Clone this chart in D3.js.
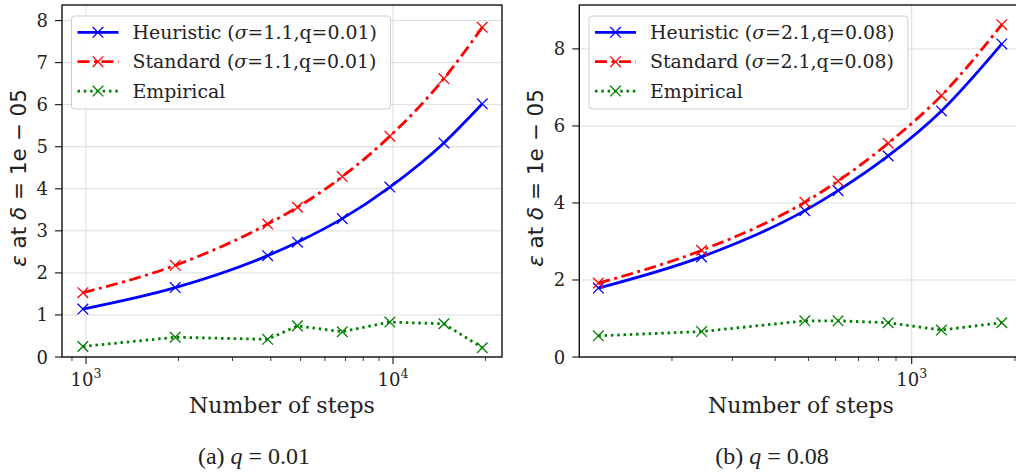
<!DOCTYPE html>
<html>
<head>
<meta charset="utf-8">
<script src="https://cdn.jsdelivr.net/npm/d3@7"></script>
<style>
  body { margin: 0; background: white; }
  svg { display: block; }
  text { font-family: "DejaVu Serif", serif; fill: #222; }
</style>
</head>
<body>
<svg id="fig" width="1016" height="472"></svg>
<script>
// steps = epochs * 50000 / batch
let stepsA = [977, 1953, 3906, 4883, 6836, 9766, 14648, 19531];
let heuristicA = [1.14, 1.65, 2.41, 2.73, 3.29, 4.04, 5.09, 6.02];
let standardA = [1.53, 2.18, 3.16, 3.56, 4.29, 5.25, 6.62, 7.84];
let empiricalA = [0.25, 0.47, 0.42, 0.74, 0.60, 0.83, 0.79, 0.22];

let stepsB = [122, 244, 488, 610, 854, 1221, 1831];
let heuristicB = [1.79, 2.60, 3.80, 4.32, 5.22, 6.39, 8.13];
let standardB = [1.92, 2.77, 4.02, 4.57, 5.55, 6.79, 8.63];
let empiricalB = [0.55, 0.66, 0.94, 0.94, 0.89, 0.70, 0.89];

let yTicksA = [0, 1, 2, 3, 4, 5, 6, 7, 8];
let yTicksB = [0, 2, 4, 6, 8];

let labelsA = ["Heuristic", "Standard", "Empirical"];

const svg = d3.select("svg#fig");

let styles = [
  {color: "#0000ff", dash: null, curve: d3.curveMonotoneX},
  {color: "#ff0000", dash: "12,4.5,3,4.5", curve: d3.curveMonotoneX},
  {color: "#008000", dash: "2.5,3.8", curve: d3.curveLinear}
];

function drawPanel(p){
  const g = svg.append("g");
  const x = d3.scaleLog().domain(p.xdom).range([p.left, p.right]);
  const y = d3.scaleLinear().domain(p.ydom).range([357, 5]);

  // clip for data
  const cid = "clip" + p.id;
  svg.append("clipPath").attr("id", cid).append("rect")
    .attr("x", p.left).attr("y", 5)
    .attr("width", p.right - p.left).attr("height", 352);

  const allTicks = x.ticks();
  const major = allTicks.filter(t => Math.abs(Math.log10(t) - Math.round(Math.log10(t))) < 1e-9);

  // grid
  for (t of p.yticks){
    g.append("line")
      .attr("x1", p.left).attr("x2", p.right)
      .attr("y1", y(t)).attr("y2", y(t))
      .attr("stroke", "#dcdcdc").attr("stroke-width", 1);
  }
  for (t of major){
    g.append("line")
      .attr("x1", x(t)).attr("x2", x(t))
      .attr("y1", 5).attr("y2", 357)
      .attr("stroke", "#dcdcdc").attr("stroke-width", 1);
  }

  // series
  let series = [p.heur, p.std, p.emp];
  series.forEach(function(vals, k){
    let st = styles[k];
    let pts = p.steps.map((s, i) => [x(s), y(vals[i])]);
    let line = d3.line().curve(st.curve);
    g.append("path")
      .attr("clip-path", "url(#" + cid + ")")
      .attr("d", line(pts))
      .attr("fill", "none")
      .attr("stroke", st.color)
      .attr("stroke-width", 2.8)
      .attr("stroke-dasharray", st.dash);
    for (pt of pts){
      drawX(g, pt[0], pt[1], st.color);
    }
  });

  // frame
  g.append("rect")
    .attr("x", p.left).attr("y", 5)
    .attr("width", p.right - p.left).attr("height", 352)
    .attr("fill", "none").attr("stroke", "#111").attr("stroke-width", 1.4);

  // y ticks
  for (t of p.yticks){
    g.append("line")
      .attr("x1", p.left - 7).attr("x2", p.left)
      .attr("y1", y(t)).attr("y2", y(t))
      .attr("stroke", "#111").attr("stroke-width", 1.1);
    g.append("text")
      .attr("x", p.left - 14).attr("y", y(t) + 6.5)
      .attr("text-anchor", "end")
      .attr("font-size", 18)
      .text(t);
  }

  // x ticks
  for (t of allTicks){
    let isMajor = major.indexOf(t) >= 0;
    g.append("line")
      .attr("x1", x(t)).attr("x2", x(t))
      .attr("y1", 357).attr("y2", 357 + (isMajor ? 7 : 4))
      .attr("stroke", "#111").attr("stroke-width", isMajor ? 1.1 : 0.8);
    if (isMajor){
      let tx = g.append("text")
        .attr("x", x(t)).attr("y", 386)
        .attr("text-anchor", "middle")
        .attr("font-size", 18);
      tx.append("tspan").text("10");
      tx.append("tspan").attr("dy", -8).attr("font-size", 12.5)
        .text(Math.round(Math.log10(t)));
    }
  }

  // axis labels
  let cx = (p.left + p.right) / 2;
  if (p.id == "b") cx = 801;
  g.append("text")
    .attr("x", cx).attr("y", 413)
    .attr("text-anchor", "middle")
    .attr("font-size", 22)
    .text("Number of steps");

  let yl = g.append("text")
    .attr("transform", "translate(" + p.ylabX + ",178) rotate(-90)")
    .attr("text-anchor", "middle")
    .attr("font-size", 21.5)
    .style("font-family", "'DejaVu Sans', sans-serif");
  yl.append("tspan").attr("font-style", "italic").text("ε");
  yl.append("tspan").text(" at ");
  yl.append("tspan").attr("font-style", "italic").text("δ");
  yl.append("tspan").text(" = 1e − 05");

  // legend
  const lg = g.append("g");
  lg.append("rect")
    .attr("x", p.legX).attr("y", 16)
    .attr("width", p.legW).attr("height", 93)
    .attr("rx", 3)
    .attr("fill", "white").attr("fill-opacity", 0.85)
    .attr("stroke", "#cccccc").attr("stroke-width", 1);
  labelsA.forEach(function(name, k){
    let st = styles[k];
    let ly = 32.3 + k * 29.4;
    let x0 = p.legX + 6, x1 = p.legX + 47;
    lg.append("line")
      .attr("x1", x0).attr("x2", x1)
      .attr("y1", ly).attr("y2", ly)
      .attr("stroke", st.color).attr("stroke-width", 2.8)
      .attr("stroke-dasharray", st.dash);
    drawX(lg, (x0 + x1) / 2, ly, st.color);
    let tx = lg.append("text")
      .attr("x", p.legX + 61).attr("y", ly + 6.5)
      .attr("font-size", 18.9);
    if (k < 2){
      tx.append("tspan").text(name + " (");
      tx.append("tspan").attr("font-style", "italic").text("σ");
      tx.append("tspan").text("=" + p.sigma + ",q=" + p.q + ")");
    } else {
      tx.text(name);
    }
  });
}

function drawX(g, cx, cy, color){
  let r = 5.3;
  g.append("path")
    .attr("d", "M" + (cx - r) + "," + (cy - r) + "L" + (cx + r) + "," + (cy + r) +
               "M" + (cx - r) + "," + (cy + r) + "L" + (cx + r) + "," + (cy - r))
    .attr("stroke", color).attr("stroke-width", 1.3).attr("fill", "none");
}

drawPanel({
  id: "a",
  left: 62, right: 502,
  xdom: [Math.pow(10, 2.9218), Math.pow(10, 4.355)],
  ydom: [0, 8.37],
  yticks: yTicksA,
  steps: stepsA, heur: heuristicA, std: standardA, emp: empiricalA,
  ylabX: 26, legX: 71.5, legW: 319, sigma: "1.1", q: "0.01"
});

drawPanel({
  id: "b",
  left: 579.3, right: 1023,
  xdom: [Math.pow(10, 2.0309), Math.pow(10, 3.3245)],
  ydom: [0, 9.14],
  yticks: yTicksB,
  steps: stepsB, heur: heuristicB, std: standardB, emp: empiricalB,
  ylabX: 543, legX: 589, legW: 319, sigma: "2.1", q: "0.08"
});

// captions
function caption(cx, letter, qv){
  let t = svg.append("text")
    .attr("x", cx).attr("y", 464)
    .attr("text-anchor", "middle")
    .attr("font-size", 24)
    .style("font-family", "'Liberation Serif', 'Times New Roman', serif");
  t.append("tspan").text("(" + letter + ") ");
  t.append("tspan").attr("font-style", "italic").text("q");
  t.append("tspan").text(" = " + qv);
}
caption(254, "a", "0.01");
caption(772, "b", "0.08");
</script>
</body>
</html>
